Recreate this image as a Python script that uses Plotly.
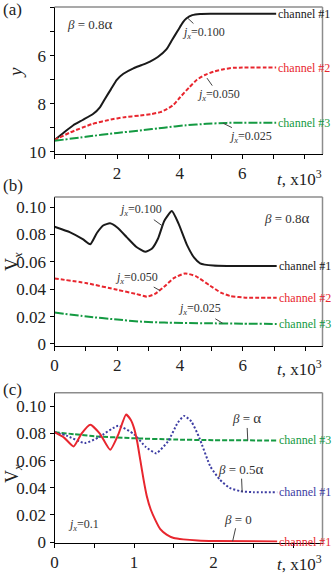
import plotly.graph_objects as go

# panel (a): channel position y vs t (x10^3)
a_t1 = [0, 0.3, 0.6, 0.9, 1.24, 1.45, 1.61, 1.8, 1.99, 2.2, 2.52, 2.8, 3.05, 3.3, 3.58, 3.75, 3.95, 4.1, 4.22, 4.4, 4.65, 5.0, 7.08]
a_y1 = [9.52, 9.2, 8.9, 8.68, 8.42, 8.15, 7.8, 7.4, 7.0, 6.75, 6.52, 6.38, 6.24, 6.05, 5.72, 5.35, 4.92, 4.6, 4.43, 4.3, 4.25, 4.24, 4.24]
a_t2 = [0, 0.5, 1.2, 1.8, 2.2, 2.74, 3.1, 3.38, 3.6, 3.8, 4.02, 4.3, 4.55, 4.8, 5.08, 5.4, 5.71, 6.0, 7.08]
a_y2 = [9.52, 9.2, 8.85, 8.66, 8.57, 8.49, 8.43, 8.35, 8.22, 8.05, 7.72, 7.32, 7.0, 6.8, 6.66, 6.56, 6.5, 6.49, 6.49]
a_t3 = [0, 1, 2, 2.73, 3.5, 4.2, 4.85, 5.5, 7.08]
a_y3 = [9.55, 9.38, 9.22, 9.12, 9.0, 8.9, 8.84, 8.8, 8.79]

# panel (b): Vx vs t
b_t1 = [0, 0.5, 0.9, 1.14, 1.35, 1.55, 1.77, 2.0, 2.3, 2.6, 2.89, 3.1, 3.3, 3.5, 3.74, 3.95, 4.22, 4.45, 4.64, 5.06, 5.5, 7.08]
b_v1 = [0.0856, 0.0815, 0.0765, 0.0728, 0.081, 0.0865, 0.0881, 0.085, 0.078, 0.071, 0.0674, 0.0695, 0.077, 0.09, 0.0971, 0.088, 0.0723, 0.063, 0.0589, 0.0572, 0.0569, 0.0569]
b_t2 = [0, 1, 2, 2.6, 2.95, 3.2, 3.48, 3.8, 4.16, 4.5, 4.96, 5.3, 5.6, 6.13, 7.08]
b_v2 = [0.0478, 0.0445, 0.0395, 0.0365, 0.0345, 0.0365, 0.0415, 0.048, 0.0515, 0.0495, 0.0425, 0.0375, 0.035, 0.0338, 0.0338]
b_t3 = [0, 1.03, 2, 2.73, 3.5, 4.85, 6, 7.08]
b_v3 = [0.0229, 0.02, 0.0178, 0.0163, 0.0156, 0.0151, 0.0148, 0.0146]

# panel (c): Vx vs t for different beta
c_tr = [0, 0.12, 0.24, 0.34, 0.45, 0.57, 0.7, 0.8, 0.9, 0.96, 1.0, 1.04, 1.08, 1.12, 1.16, 1.21, 1.27, 1.33, 1.41, 1.5, 1.62, 1.8, 2.0, 2.8]
c_vr = [0.081, 0.077, 0.0705, 0.08, 0.0865, 0.08, 0.068, 0.079, 0.094, 0.09, 0.084, 0.074, 0.06, 0.046, 0.034, 0.024, 0.016, 0.0095, 0.0055, 0.003, 0.002, 0.0012, 0.0008, 0.0004]
c_tb = [0, 0.15, 0.38, 0.55, 0.8, 1.0, 1.15, 1.28, 1.43, 1.55, 1.63, 1.72, 1.82, 1.96, 2.08, 2.2, 2.34, 2.5, 2.8]
c_vb = [0.081, 0.0785, 0.073, 0.077, 0.0857, 0.0795, 0.07, 0.0655, 0.0745, 0.088, 0.093, 0.089, 0.077, 0.0557, 0.046, 0.040, 0.0375, 0.0368, 0.0368]
c_tg = [0, 0.25, 0.5, 1.0, 1.5, 2.0, 2.8]
c_vg = [0.081, 0.0795, 0.078, 0.0765, 0.0756, 0.0751, 0.0749]

BLACK = "#1a1a1a"
RED = "#e8262e"
GREEN = "#149a42"
BLUE = "#3d3da3"
GREY = "#444444"
FONT = "Liberation Serif"

W, H = 333, 574


def px_x(p):
    return p / W


def px_y(p):
    return 1 - p / H


fig = go.Figure()

fig.add_trace(go.Scatter(x=a_t1, y=a_y1, mode="lines", line=dict(color=BLACK, width=2, shape="spline", smoothing=0.5), xaxis="x", yaxis="y"))
fig.add_trace(go.Scatter(x=a_t2, y=a_y2, mode="lines", line=dict(color=RED, width=2, dash="4px,2px", shape="spline", smoothing=0.5), xaxis="x", yaxis="y"))
fig.add_trace(go.Scatter(x=a_t3, y=a_y3, mode="lines", line=dict(color=GREEN, width=2, dash="9px,2px,2px,2px", shape="spline", smoothing=0.5), xaxis="x", yaxis="y"))

fig.add_trace(go.Scatter(x=b_t1, y=b_v1, mode="lines", line=dict(color=BLACK, width=2, shape="spline", smoothing=0.5), xaxis="x2", yaxis="y2"))
fig.add_trace(go.Scatter(x=b_t2, y=b_v2, mode="lines", line=dict(color=RED, width=2, dash="4px,2px", shape="spline", smoothing=0.5), xaxis="x2", yaxis="y2"))
fig.add_trace(go.Scatter(x=b_t3, y=b_v3, mode="lines", line=dict(color=GREEN, width=2, dash="9px,2px,2px,2px", shape="spline", smoothing=0.5), xaxis="x2", yaxis="y2"))

fig.add_trace(go.Scatter(x=c_tg, y=c_vg, mode="lines", line=dict(color=GREEN, width=2, dash="5px,2px", shape="spline", smoothing=0.5), xaxis="x3", yaxis="y3"))
fig.add_trace(go.Scatter(x=c_tb, y=c_vb, mode="lines", line=dict(color=BLUE, width=2, dash="2px,2px", shape="spline", smoothing=0.5), xaxis="x3", yaxis="y3"))
fig.add_trace(go.Scatter(x=c_tr, y=c_vr, mode="lines", line=dict(color=RED, width=2, shape="spline", smoothing=0.5), xaxis="x3", yaxis="y3"))

xdom = [px_x(54.5), px_x(322.5)]
ax_common = dict(showline=True, linecolor="black", linewidth=1, ticks="outside", ticklen=4,
                 tickcolor="black", showgrid=False, zeroline=False, automargin=False,
                 tickfont=dict(family=FONT, size=17, color="#222"))

fig.update_layout(
    width=W, height=H, margin=dict(l=0, r=0, t=0, b=0),
    paper_bgcolor="white", plot_bgcolor="white", showlegend=False,
    font=dict(family=FONT, color="#222"),
    xaxis=dict(domain=xdom, anchor="y", range=[0, 8.56], tickvals=list(range(9)),
               ticktext=["", "", "2", "", "4", "", "6", "", ""], **ax_common),
    yaxis=dict(domain=[px_y(154), px_y(7)], anchor="x", range=[10.1, 3.96],
               tickvals=[4, 5, 6, 7, 8, 9, 10], ticktext=["4", "", "6", "", "8", "", "10"], **ax_common),
    xaxis2=dict(domain=xdom, anchor="y2", range=[0, 8.54], tickvals=list(range(9)),
                ticktext=["0", "", "2", "", "4", "", "6", "", ""], **ax_common),
    yaxis2=dict(domain=[px_y(346), px_y(197)], anchor="x2", range=[-0.0015, 0.1073],
                tickvals=[0, 0.02, 0.04, 0.06, 0.08, 0.10], ticktext=["0", "0.02", "0.04", "0.06", "0.08", "0.10"], **ax_common),
    xaxis3=dict(domain=xdom, anchor="y3", range=[0, 3.37], tickvals=[0, 0.5, 1, 1.5, 2, 2.5, 3],
                ticktext=["0", "", "1", "", "2", "", ""], **ax_common),
    yaxis3=dict(domain=[px_y(542.5), px_y(392.7)], anchor="x3", range=[-0.0003, 0.1101],
                tickvals=[0, 0.02, 0.04, 0.06, 0.08, 0.10], ticktext=["0", "0.02", "0.04", "0.06", "0.08", "0.10"], **ax_common),
)

# grey top/right frame
for xa, ya in [("x", "y"), ("x2", "y2"), ("x3", "y3")]:
    fig.add_shape(type="line", xref=xa + " domain", yref=ya + " domain", x0=0, x1=1, y0=1, y1=1,
                  line=dict(color="#8c8c8c", width=1.5))
    fig.add_shape(type="line", xref=xa + " domain", yref=ya + " domain", x0=1, x1=1, y0=0, y1=1,
                  line=dict(color="#8c8c8c", width=1.5))


def label(text, x, y, xa, ya, color, size=12, anchor="left"):
    fig.add_annotation(text=text, x=x, y=y, xref=xa, yref=ya, xanchor=anchor, yanchor="middle",
                       showarrow=False, font=dict(family=FONT, size=size, color=color))


def pointer(text, x, y, xa, ya, dx, dy, size=12):
    fig.add_annotation(text=text, x=x, y=y, xref=xa, yref=ya, ax=dx, ay=dy, showarrow=True,
                       arrowhead=0, arrowwidth=1, arrowcolor=GREY, standoff=0,
                       font=dict(family=FONT, size=size, color="#333"))


jx = "<i>j</i><sub><i>x</i></sub>="

# channel labels
label("channel #1", a_t1[-1], a_y1[-1], "x", "y", BLACK)
label("channel #2", a_t2[-1], a_y2[-1], "x", "y", RED)
label("channel #3", a_t3[-1], a_y3[-1], "x", "y", GREEN)
label("channel #1", b_t1[-1], b_v1[-1], "x2", "y2", BLACK)
label("channel #2", b_t2[-1], b_v2[-1], "x2", "y2", RED)
label("channel #3", b_t3[-1], b_v3[-1], "x2", "y2", GREEN)
label("channel #3", c_tg[-1], c_vg[-1], "x3", "y3", GREEN)
label("channel #1", c_tb[-1], c_vb[-1], "x3", "y3", BLUE)
label("channel #1", c_tr[-1], c_vr[-1], "x3", "y3", RED)

# beta notes
label("<i>β</i> = 0.8<span style='font-size:15px'>α</span>", 0.34, 4.67, "x", "y", "#333", size=13)
label("<i>β</i> = 0.8<span style='font-size:15px'>α</span>", 6.61, 0.092, "x2", "y2", "#333", size=13)
label(jx + "0.1", 0.15, 0.0129, "x3", "y3", "#333", size=12)

# pointer notes
pointer(jx + "0.100", 4.25, 4.42, "x", "y", 16, 15)
pointer(jx + "0.050", 4.87, 6.93, "x", "y", 12, 17)
pointer(jx + "0.025", 5.38, 8.81, "x", "y", 28, 14)
pointer(jx + "0.100", 3.45, 0.086, "x2", "y2", -22, -16)
pointer(jx + "0.050", 3.36, 0.039, "x2", "y2", -23, -13)
pointer(jx + "0.025", 5.36, 0.0151, "x2", "y2", -23, -14)
pointer("<i>β</i> = <span style='font-size:15px'>α</span>", 2.43, 0.0749, "x3", "y3", -1, -22, size=13)
pointer("<i>β</i> = 0.5<span style='font-size:15px'>α</span>", 2.36, 0.0368, "x3", "y3", -1, -23, size=13)
pointer("<i>β</i> = 0", 2.24, 0.0006, "x3", "y3", 5, -22, size=13)

# panel letters and axis titles
for txt, yy in [("(a)", 10), ("(b)", 185), ("(c)", 389)]:
    fig.add_annotation(text=txt, x=px_x(1), y=px_y(yy), xref="paper", yref="paper", xanchor="left",
                       yanchor="middle", showarrow=False, font=dict(family=FONT, size=17, color="#222"))

fig.add_annotation(text="<i>y</i>", x=px_x(16), y=px_y(73), xref="paper", yref="paper", textangle=-90,
                   xanchor="center", yanchor="middle", showarrow=False,
                   font=dict(family=FONT, size=19, color="#222"))
for yy in [262, 474]:
    fig.add_annotation(text="V<sub><i>x</i></sub>", x=px_x(13), y=px_y(yy), xref="paper", yref="paper",
                       textangle=-90, xanchor="center", yanchor="middle", showarrow=False,
                       font=dict(family=FONT, size=18, color="#222"))

for yy in [178, 368, 563]:
    fig.add_annotation(text="<i>t</i>, x10<sup>3</sup>", x=px_x(324), y=px_y(yy), xref="paper", yref="paper",
                       xanchor="right", yanchor="middle", showarrow=False,
                       font=dict(family=FONT, size=17, color="#222"))

fig.write_html("out.html", config={"displayModeBar": False},
               post_script="document.body.style.margin='0';")
